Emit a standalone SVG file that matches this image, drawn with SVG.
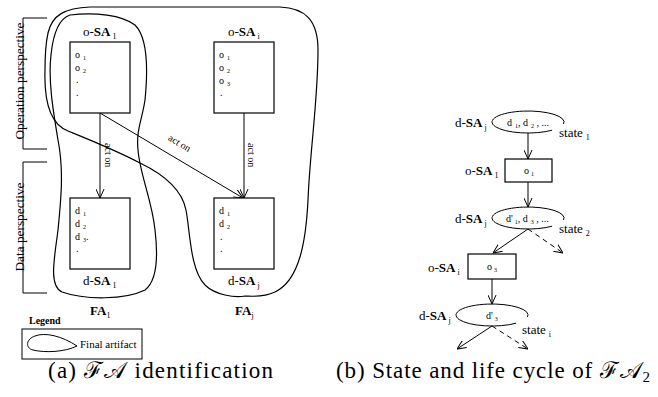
<svg xmlns="http://www.w3.org/2000/svg" width="658" height="397" viewBox="0 0 658 397" font-family="Liberation Serif">
<style>
.b{font-weight:bold}
.ln{stroke:#000;stroke-width:1;fill:none}
.box{stroke:#000;stroke-width:1.2;fill:#fff}
.blob{stroke:#000;stroke-width:1.2;fill:none}
.dash{stroke-dasharray:5,4}
.cap{font-size:23px}
</style>
<defs>
<marker id="arr" viewBox="0 0 10 10" refX="10" refY="5" markerWidth="9" markerHeight="9" markerUnits="userSpaceOnUse" orient="auto">
<path d="M0,0.5 L10,5 L0,9.5" fill="none" stroke="#000" stroke-width="1.1"/>
</marker>
</defs>

<g id="op-perspective">
<path class="ln" d="M47,18 H23 V149 H47"/>
<text font-family="Liberation Serif" font-size="13.3" transform="translate(24,81) rotate(-90)" text-anchor="middle">Operation perspective</text>
</g>
<g id="data-perspective">
<path class="ln" d="M47,162 H23 V293 H47"/>
<text font-family="Liberation Serif" font-size="13.3" transform="translate(24,227) rotate(-90)" text-anchor="middle">Data perspective</text>
</g>

<g id="FAj">
<path class="blob" d="M48,33 C52,15 65,8 90,7 L280,7 C305,8 318,20 318,50 C318,100 310,150 308,200 C306,240 300,280 275,292 C262,298 250,296 245,296 C235,298 215,295 205,285 C190,270 190,230 186,210 C182,190 165,175 140,163 C115,150 90,140 68,131 C50,124 44,100 45,70 C45,55 46,42 48,33 Z"/>
<text font-family="Liberation Serif" font-size="13" x="235" y="315"><tspan class="b">FA</tspan><tspan font-size="8" dy="3">j</tspan></text>
</g>
<g id="FA1">
<path class="blob" d="M70,15 C95,12 122,15 135,25 C148,38 148,70 145,100 C142,120 136,130 138,150 C140,175 152,200 155,230 C158,255 158,280 145,290 C125,300 85,300 62,292 C48,286 55,255 58,230 C61,200 64,170 58,140 C53,110 48,80 51,55 C53,35 58,19 70,15 Z"/>
<text font-family="Liberation Serif" font-size="13" x="90" y="315"><tspan class="b">FA</tspan><tspan font-size="8" dy="3">1</tspan></text>
</g>

<g id="connectors" font-family="Liberation Serif">
<line class="ln" x1="100" y1="113" x2="100" y2="198" marker-end="url(#arr)"/>
<line class="ln" x1="244" y1="113" x2="244" y2="198" marker-end="url(#arr)"/>
<line class="ln" x1="100" y1="113" x2="243" y2="198" marker-end="url(#arr)"/>
<text font-size="10" transform="translate(105,143) rotate(90)">act on</text>
<text font-size="10" transform="translate(248,143) rotate(90)">act on</text>
<text font-size="10" transform="translate(178,146) rotate(30.5)" text-anchor="middle">act on</text>

<line class="ln" x1="528" y1="133" x2="528" y2="159" marker-end="url(#arr)"/>
<line class="ln" x1="528" y1="182" x2="528" y2="207" marker-end="url(#arr)"/>
<line class="ln" x1="528" y1="229" x2="493" y2="253" marker-end="url(#arr)"/>
<line class="ln dash" x1="528" y1="229" x2="563" y2="253" marker-end="url(#arr)"/>
<line class="ln" x1="492" y1="279" x2="492" y2="304" marker-end="url(#arr)"/>
<line class="ln" x1="492" y1="326" x2="457" y2="349" marker-end="url(#arr)"/>
<line class="ln dash" x1="492" y1="326" x2="528" y2="349" marker-end="url(#arr)"/>
</g>

<g id="o-SA1" font-family="Liberation Serif">
<rect class="box" x="70" y="42" width="60" height="71"/>
<text font-size="13" x="83" y="36">o-<tspan class="b">SA</tspan><tspan font-size="8" dx="2" dy="3">1</tspan></text>
<text font-size="10" x="75" y="58">o<tspan font-size="6" dx="3" dy="2">1</tspan></text>
<text font-size="10" x="75" y="71">o<tspan font-size="6" dx="3" dy="2">2</tspan></text>
<text font-size="10" x="76" y="83">.</text>
<text font-size="10" x="76" y="96">.</text>
</g>
<g id="o-SAi" font-family="Liberation Serif">
<rect class="box" x="214" y="42" width="60" height="71"/>
<text font-size="13" x="228" y="36">o-<tspan class="b">SA</tspan><tspan font-size="8" dx="2" dy="3">i</tspan></text>
<text font-size="10" x="219" y="58">o<tspan font-size="6" dx="3" dy="2">1</tspan></text>
<text font-size="10" x="219" y="71">o<tspan font-size="6" dx="3" dy="2">2</tspan></text>
<text font-size="10" x="219" y="84">o<tspan font-size="6" dx="3" dy="2">3</tspan></text>
<text font-size="10" x="220" y="96">.</text>
</g>
<g id="d-SA1" font-family="Liberation Serif">
<rect class="box" x="70" y="198" width="60" height="71"/>
<text font-size="13" x="83" y="285">d-<tspan class="b">SA</tspan><tspan font-size="8" dx="2" dy="3">1</tspan></text>
<text font-size="10" x="75" y="214">d<tspan font-size="6" dx="3" dy="2">1</tspan></text>
<text font-size="10" x="75" y="227">d<tspan font-size="6" dx="3" dy="2">2</tspan></text>
<text font-size="10" x="75" y="240">d<tspan font-size="6" dx="3" dy="2">3</tspan><tspan dy="-2">.</tspan></text>
<text font-size="10" x="76" y="252">.</text>
</g>
<g id="d-SAj" font-family="Liberation Serif">
<rect class="box" x="214" y="198" width="60" height="71"/>
<text font-size="13" x="228" y="285">d-<tspan class="b">SA</tspan><tspan font-size="8" dx="2" dy="3">j</tspan></text>
<text font-size="10" x="219" y="214">d<tspan font-size="6" dx="3" dy="2">1</tspan></text>
<text font-size="10" x="219" y="227">d<tspan font-size="6" dx="3" dy="2">2</tspan></text>
<text font-size="10" x="220" y="240">.</text>
<text font-size="10" x="220" y="252">.</text>
</g>

<g id="legend" font-family="Liberation Serif">
<text class="b" font-size="10" x="29" y="324">Legend</text>
<rect x="22" y="329" width="120" height="30" fill="none" stroke="#000" stroke-width="1"/>
<path class="ln" stroke-width="1.1" d="M35,336 C45,332 62,336 77,346 C65,352 45,353 33,350 C25,348 26,339 35,336 Z"/>
<text font-size="11" x="80" y="348">Final artifact</text>
</g>

<g id="state1" font-family="Liberation Serif">
<path class="ln" d="M552.1,130.2 A36,11 0 1,1 563.5,123.9"/>
<text font-size="13" x="455" y="127">d-<tspan class="b">SA</tspan><tspan font-size="8" dx="2" dy="3">j</tspan></text>
<text font-size="10" x="507" y="126">d<tspan font-size="6" dx="3" dy="2">1</tspan><tspan dy="-2">, d</tspan><tspan font-size="6" dx="3" dy="2">2</tspan><tspan dy="-2"> , ...</tspan></text>
<text font-size="13" x="559" y="137">state<tspan font-size="8" dx="3" dy="3">1</tspan></text>
</g>
<g id="r-o-SA1" font-family="Liberation Serif">
<rect class="box" x="505" y="159" width="47" height="23"/>
<text font-size="13" x="465" y="175">o-<tspan class="b">SA</tspan><tspan font-size="8" dx="2" dy="3">1</tspan></text>
<text font-size="10" x="524" y="174">o<tspan font-size="6" dx="2" dy="2">1</tspan></text>
</g>
<g id="state2" font-family="Liberation Serif">
<path class="ln" d="M552.1,226.2 A36,11 0 1,1 563.5,219.9"/>
<text font-size="13" x="455" y="223">d-<tspan class="b">SA</tspan><tspan font-size="8" dx="2" dy="3">j</tspan></text>
<text font-size="10" x="506" y="222">d'<tspan font-size="6" dx="2" dy="2">1</tspan><tspan dy="-2">, d</tspan><tspan font-size="6" dx="3" dy="2">3</tspan><tspan dy="-2"> , ...</tspan></text>
<text font-size="13" x="559" y="233">state<tspan font-size="8" dx="3" dy="3">2</tspan></text>
</g>
<g id="r-o-SAi" font-family="Liberation Serif">
<rect class="box" x="468" y="254" width="48" height="25"/>
<text font-size="13" x="428" y="272">o-<tspan class="b">SA</tspan><tspan font-size="8" dx="2" dy="3">i</tspan></text>
<text font-size="10" x="487" y="270">o<tspan font-size="6" dx="2" dy="2">3</tspan></text>
</g>
<g id="statei" font-family="Liberation Serif">
<path class="ln" d="M516.1,323.2 A36,11 0 1,1 527.5,316.9"/>
<text font-size="13" x="419" y="320">d-<tspan class="b">SA</tspan><tspan font-size="8" dx="2" dy="3">j</tspan></text>
<text font-size="10" x="486" y="319">d'<tspan font-size="6" dx="2" dy="2">3</tspan></text>
<text font-size="13" x="522" y="334">state<tspan font-size="8" dx="3" dy="3">i</tspan></text>
</g>

<text font-family="Liberation Serif" class="cap" x="48" y="378" textLength="225" lengthAdjust="spacing">(a) ℱ𝒜 identification</text>
<text font-family="Liberation Serif" class="cap" x="336" y="378" textLength="314" lengthAdjust="spacing">(b) State and life cycle of ℱ𝒜<tspan font-size="15" dy="4">2</tspan></text>
</svg>
